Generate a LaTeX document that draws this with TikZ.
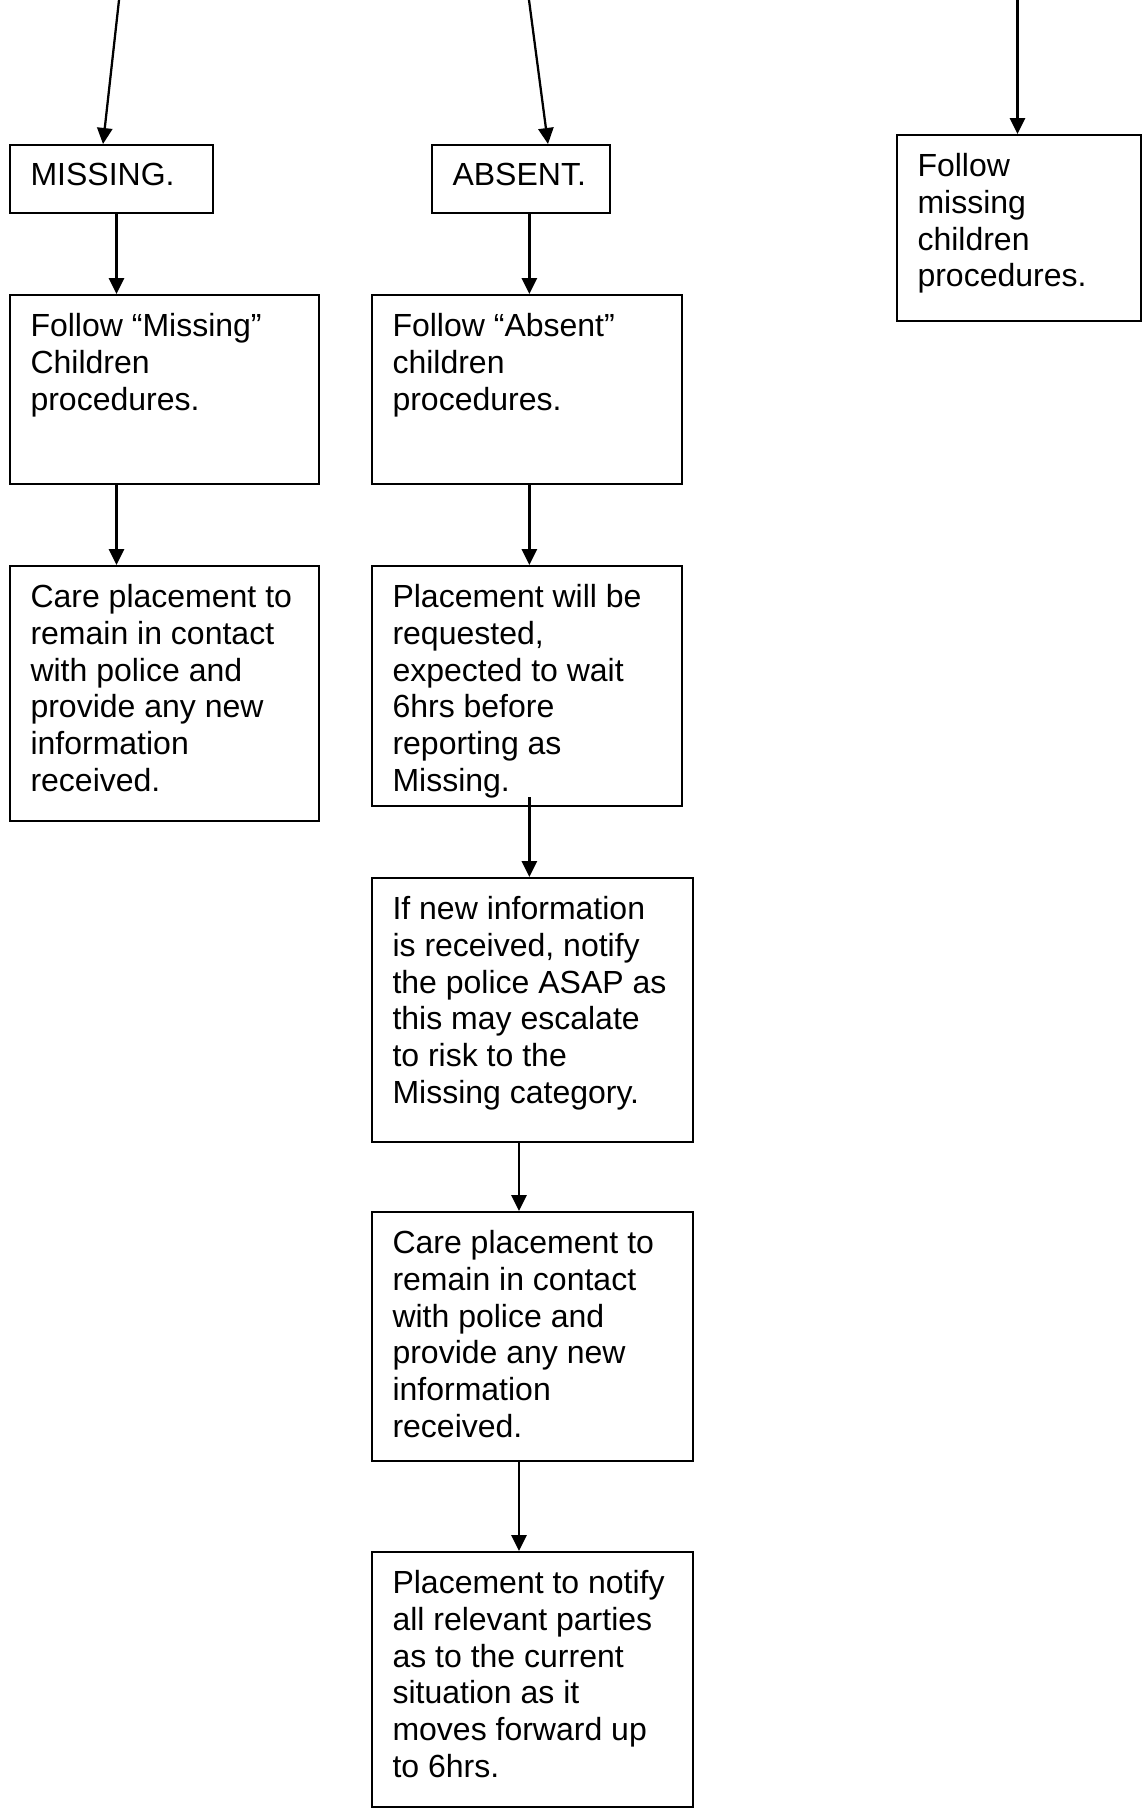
\documentclass[tikz,border=0pt]{standalone}
\usepackage{fontspec}
\setmainfont{Liberation Sans}
\usetikzlibrary{arrows.meta,calc}
\begin{document}
\begin{tikzpicture}[x=0.375pt, y=-0.375pt,
  box/.style={draw, line width=0.85pt, anchor=north west, inner sep=0pt},
  txt/.style={anchor=north west, inner sep=0pt, align=left, font=\fontsize{12pt}{13.84pt}\selectfont},
  arr/.style={line width=0.85pt, -{Triangle[length=6pt, width=5.7pt]}}]
\useasboundingbox (0,0) rectangle (1143,1808);
% boxes
\node[box, minimum width=76.125pt, minimum height=25.5pt] (missing) at (9,144) {};
\node[box, minimum width=115.875pt, minimum height=70.875pt] (fmiss) at (9,294) {};
\node[box, minimum width=115.875pt, minimum height=95.625pt] (care1) at (9,565) {};
\node[box, minimum width=66.75pt, minimum height=25.5pt] (absent) at (431,144) {};
\node[box, minimum width=116.25pt, minimum height=70.875pt] (fabs) at (371,294) {};
\node[box, minimum width=116.25pt, minimum height=90pt] (place) at (371,565) {};
\node[box, minimum width=120.375pt, minimum height=99pt] (ifnew) at (371,877) {};
\node[box, minimum width=120.375pt, minimum height=93.375pt] (care2) at (371,1211) {};
\node[box, minimum width=120.375pt, minimum height=95.625pt] (notify) at (371,1551) {};
\node[box, minimum width=91.5pt, minimum height=69.75pt] (fright) at (896,134) {};
% texts
\node[txt] (tmissing) at ([shift={(21,14)}]missing.north west) {\rule{0pt}{10pt}MISSING.};
\node[txt] (tfmiss) at ([shift={(21,15)}]fmiss.north west) {\rule{0pt}{10pt}Follow “Missing”\\Children\\procedures.};
\node[txt] (tcare1) at ([shift={(21,15)}]care1.north west) {\rule{0pt}{10pt}Care placement to\\remain in contact\\with police and\\provide any new\\information\\received.};
\node[txt] (tabsent) at ([shift={(21,14)}]absent.north west) {\rule{0pt}{10pt}ABSENT.};
\node[txt] (tfabs) at ([shift={(21,15)}]fabs.north west) {\rule{0pt}{10pt}Follow “Absent”\\children\\procedures.};
\node[txt] (tplace) at ([shift={(21,15)}]place.north west) {\rule{0pt}{10pt}Placement will be\\requested,\\expected to wait\\6hrs before\\reporting as\\Missing.};
\node[txt] (tifnew) at ([shift={(21,15)}]ifnew.north west) {\rule{0pt}{10pt}If new information\\is received, notify\\the police ASAP as\\this may escalate\\to risk to the\\Missing category.};
\node[txt] (tcare2) at ([shift={(21,15)}]care2.north west) {\rule{0pt}{10pt}Care placement to\\remain in contact\\with police and\\provide any new\\information\\received.};
\node[txt] (tnotify) at ([shift={(21,15)}]notify.north west) {\rule{0pt}{10pt}Placement to notify\\all relevant parties\\as to the current\\situation as it\\moves forward up\\to 6hrs.};
\node[txt] (tfright) at ([shift={(21,15)}]fright.north west) {\rule{0pt}{10pt}Follow\\missing\\children\\procedures.};
% free ends
\coordinate (s1) at (119,0);
\coordinate (s2) at (529,0);
\coordinate (s3) at (1017.5,0);
% connectors
\draw[arr] (s1) -- ($(missing.north west)+(94,0)$);
\draw[arr] ($(missing.south west)+(107.5,0)$) -- ($(fmiss.north west)+(107.5,0)$);
\draw[arr] ($(fmiss.south west)+(107.5,0)$) -- ($(care1.north west)+(107.5,0)$);
\draw[arr] (s2) -- ($(absent.north west)+(117,0)$);
\draw[arr] ($(absent.south west)+(98.4,0)$) -- ($(fabs.north west)+(158.4,0)$);
\draw[arr] ($(fabs.south west)+(158.4,0)$) -- ($(place.north west)+(158.4,0)$);
\draw[arr] ($(place.south west)+(158.4,-10)$) -- ($(ifnew.north west)+(158.4,0)$);
\draw[arr] ($(ifnew.south west)+(148,0)$) -- ($(care2.north west)+(148,0)$);
\draw[arr] ($(care2.south west)+(148,0)$) -- ($(notify.north west)+(148,0)$);
\draw[arr] (s3) -- ($(fright.north west)+(121.5,0)$);
\end{tikzpicture}
\end{document}
